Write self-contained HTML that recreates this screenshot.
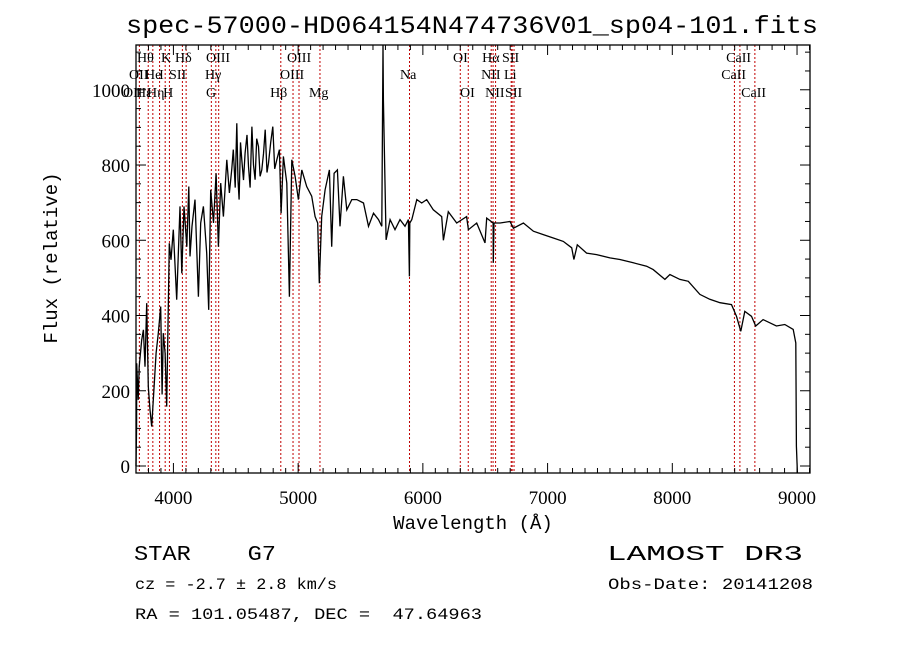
<!DOCTYPE html>
<html><head><meta charset="utf-8"><style>
html,body{margin:0;padding:0;background:#fff;}
svg{display:block;}
text{font-family:"Liberation Serif",serif;fill:#000;}
.mono{font-family:"Liberation Mono",monospace;white-space:pre;}
</style></head><body>
<svg id="chart" width="900" height="649" xmlns="http://www.w3.org/2000/svg" xml:space="preserve">
<rect width="900" height="649" fill="#fff"/>
<text class="mono" x="126" y="33" font-size="25" textLength="692" lengthAdjust="spacingAndGlyphs">spec-57000-HD064154N474736V01_sp04-101.fits</text>
<g id="lines"></g>
<g id="labels"></g>
<path id="spec" fill="none" stroke="#000" stroke-width="1.3"/>
<rect x="136" y="45" width="674" height="428" fill="none" stroke="#000" stroke-width="1.3"/>
<g id="ticks" stroke="#000" stroke-width="1"></g>
<g id="ticklabels"></g>
<text class="mono" x="473" y="529" font-size="19" text-anchor="middle">Wavelength (Å)</text>
<text class="mono" x="0" y="0" font-size="19" text-anchor="middle" transform="translate(57,258) rotate(-90)">Flux (relative)</text>
<text class="mono" x="134" y="560" font-size="21" textLength="142" lengthAdjust="spacingAndGlyphs">STAR&#160;&#160;&#160;&#160;G7</text>
<text class="mono" x="607" y="560" font-size="21" textLength="196" lengthAdjust="spacingAndGlyphs">LAMOST DR3</text>
<text class="mono" x="135" y="589" font-size="16" textLength="202" lengthAdjust="spacingAndGlyphs">cz = -2.7 ± 2.8 km/s</text>
<text class="mono" x="608" y="589" font-size="16" textLength="205" lengthAdjust="spacingAndGlyphs">Obs-Date: 20141208</text>
<text class="mono" x="135" y="619" font-size="16" textLength="347" lengthAdjust="spacingAndGlyphs">RA = 101.05487, DEC =&#160;&#160;47.64963</text>
</svg>
<script>
const wavelengths=[3700,3705,3706,3718,3726,3746,3759,3772,3786,3799,3812,3826,3845,3861,3879,3898,3909,3919,3933,3946,3960,3967,3981,3999,4026,4053,4067,4085,4107,4123,4133,4149,4173,4200,4219,4240,4267,4283,4299,4321,4342,4361,4379,4401,4428,4449,4468,4480,4495,4508,4518,4527,4538,4548,4562,4575,4590,4602,4615,4629,4642,4655,4668,4682,4695,4709,4722,4736,4750,4762,4780,4797,4812,4829,4850,4863,4882,4909,4930,4949,4976,5002,5029,5069,5109,5136,5157,5170,5189,5216,5251,5269,5288,5315,5336,5363,5390,5430,5470,5524,5564,5604,5644,5671,5680,5684,5705,5737,5777,5817,5857,5884,5892,5895,5911,5951,5991,6031,6084,6151,6165,6204,6271,6351,6365,6432,6498,6512,6563,6565,6570,6619,6699,6726,6806,6886,6966,7046,7126,7193,7211,7238,7313,7393,7500,7580,7687,7794,7847,7941,7981,8061,8128,8221,8301,8382,8475,8515,8549,8581,8635,8669,8728,8835,8902,8969,8990,8995,9003];
const fluxes=[0,105,273,176,264,335,362,264,433,211,149,105,211,300,353,424,190,353,300,158,442,592,548,628,442,690,512,690,583,743,557,637,708,450,646,690,566,415,734,646,778,583,752,663,814,726,790,841,740,911,760,708,860,814,760,832,880,796,740,902,800,761,870,849,770,787,830,894,780,805,860,902,790,814,841,672,823,752,450,814,770,708,787,743,717,663,646,486,663,734,787,583,778,787,637,770,681,708,708,699,637,672,655,637,1200,973,601,655,628,655,637,655,504,646,655,708,699,708,681,663,600,676,646,663,628,646,593,659,646,540,646,646,650,632,646,624,615,606,597,580,549,588,566,562,553,549,540,531,522,496,509,496,491,456,443,434,429,398,358,411,398,372,389,372,376,363,327,53,-18];
const lineWaves=[3727,3798,3835,3889,3934,3968,4072,4102,4304,4340,4363,4861,4959,5007,5175,5893,6300,6364,6548,6563,6583,6708,6716,6731,8498,8542,8662];
const labelTexts=["Hθ","K","Hδ","OIII","OIII","OI","Hα","SII","CaII","OII","He","I","SII","Hγ","OIII","Na","NII","Li","CaII","OII","Hε","Hη","H","G","Hβ","Mg","OI","NII","SII","CaII"];
const labelWaves=[3708,3900,4013,4261,4911,6242,6475,6635,8432,3644,3772,3885,3965,4253,4855,5817,6467,6651,8392,3596,3700,3788,3917,4261,4775,5087,6298,6499,6659,8552];
const labelRows=[0,0,0,0,0,0,0,0,0,1,1,1,1,1,1,1,1,1,1,2,2,2,2,2,2,2,2,2,2,2];
const xTicks=[4000,5000,6000,7000,8000,9000];
const yTicks=[0,200,400,600,800,1000];
const xMin=3700,xMax=9104,yMin=-18.6,yMax=1119;
const L=136,R=810,T=45,B=473;
const xs=v=>L+(v-xMin)/(xMax-xMin)*(R-L);
const ys=v=>B-(v-yMin)/(yMax-yMin)*(B-T);
const NS="http://www.w3.org/2000/svg";
function mk(tag,attrs,parent){const e=document.createElementNS(NS,tag);for(const k in attrs)e.setAttribute(k,attrs[k]);parent.appendChild(e);return e;}
let d="";
wavelengths.forEach((w,i)=>{const y=Math.max(T,Math.min(B,ys(fluxes[i])));d+=(i?"L":"M")+xs(w).toFixed(1)+","+y.toFixed(1);});
document.getElementById("spec").setAttribute("d",d);
const lg=document.getElementById("lines");
lineWaves.forEach(w=>{const l=mk("line",{x1:xs(w),x2:xs(w),y1:T,y2:B,stroke:"#c00000","stroke-width":1,"stroke-dasharray":"2,2"},lg);

});
const lab=document.getElementById("labels");
const rowY=[62,79,97];
labelTexts.forEach((t,i)=>{const e=mk("text",{x:xs(labelWaves[i]),y:rowY[labelRows[i]],"font-size":14},lab);e.textContent=t;

});
const tg=document.getElementById("ticks");
for(let w=3700;w<=9100;w+=100){const x=xs(w);const maj=w%1000===0;const len=maj?10:5;
mk("line",{x1:x,x2:x,y1:B,y2:B-len},tg);mk("line",{x1:x,x2:x,y1:T,y2:T+len},tg);}
for(let v=0;v<=1100;v+=50){const y=ys(v);const maj=v%200===0;const len=maj?10:5;
mk("line",{x1:L,x2:L+len,y1:y,y2:y},tg);mk("line",{x1:R,x2:R-len,y1:y,y2:y},tg);}
const tl=document.getElementById("ticklabels");
xTicks.forEach(v=>{const e=mk("text",{x:xs(v),y:504,"font-size":19,"text-anchor":"middle","font-family":"Liberation Sans, sans-serif"},tl);e.textContent=v;

});
yTicks.forEach(v=>{const e=mk("text",{x:130,y:ys(v)+7,"font-size":19,"text-anchor":"end","font-family":"Liberation Sans, sans-serif"},tl);e.textContent=v;

});
</script>
</body></html>
